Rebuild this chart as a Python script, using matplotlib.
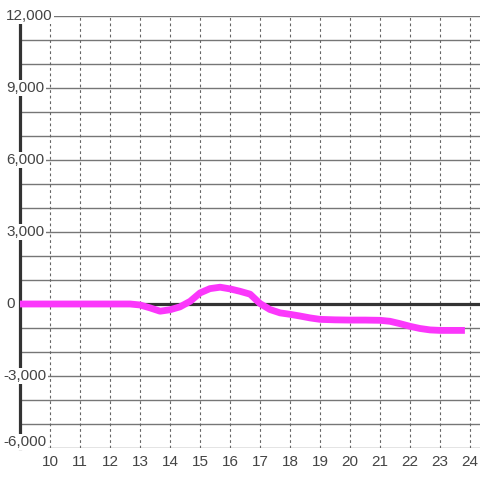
import matplotlib
matplotlib.use("Agg")
import matplotlib.pyplot as plt

plt.rcParams['font.family'] = ['Liberation Sans', 'DejaVu Sans']

hours = [9.0, 12.67, 13.0, 13.33, 13.67, 14.0, 14.33, 14.67, 15.0, 15.33, 15.67,
         16.0, 16.33, 16.67, 17.0, 17.33, 17.67, 18.0, 18.33, 18.67, 19.0, 19.5,
         20.0, 20.5, 21.0, 21.33, 21.67, 22.0, 22.33, 22.67, 23.0, 23.83]
values = [0, 0, -40, -160, -300, -240, -120, 110, 460, 640, 700,
          630, 530, 410, 20, -230, -370, -430, -500, -580, -640, -660,
          -670, -670, -680, -720, -820, -930, -1020, -1080, -1100, -1100]

x_ticks = list(range(10, 25))
y_labels = [12000, 9000, 6000, 3000, 0, -3000, -6000]
y_grid = list(range(-6000, 12001, 1000))

fig = plt.figure(figsize=(4.8, 4.8), dpi=100)
ax = fig.add_axes([20/480, 32/480, 460/480, 432/480])
ax.set_xlim(9, 9 + 460/30)
ax.set_ylim(-6000, 12000)

for s in ['top', 'right', 'bottom']:
    ax.spines[s].set_visible(False)
ax.spines['left'].set_color('#333333')
ax.spines['left'].set_linewidth(2.3)
ax.spines['left'].set_zorder(1)

for v in y_grid:
    ax.axhline(v, color='#767676', lw=1.0, zorder=0)
for h in x_ticks:
    ax.axvline(h, color='#666666', lw=0.8, ls=(0, (2.5, 2.5)), zorder=0)
ax.axhline(0, color='#333333', lw=2.3, zorder=2)

ax.plot(hours, values, color='#fb37fb', lw=4.9, solid_capstyle='butt',
        solid_joinstyle='round', zorder=3)

ax.set_xticks(x_ticks)
ax.set_xticklabels([str(h) for h in x_ticks], fontsize=11, color='#444444')
ax.tick_params(axis='x', length=0, pad=5)
ax.set_yticks([])

trans = ax.get_yaxis_transform()
for v in y_labels:
    label = f"{v:,}"
    xpx = 6 if v >= 0 else 3
    yv = v
    if v == -6000:
        yv = v + 250
    ax.text((xpx - 20) / 460, yv, label, transform=trans, ha='left', va='center',
            fontsize=11, color='#444444', clip_on=False, zorder=5,
            bbox=dict(facecolor='white', edgecolor='none', pad=1.0))

fig.savefig('out.png', dpi=100, facecolor='white')
